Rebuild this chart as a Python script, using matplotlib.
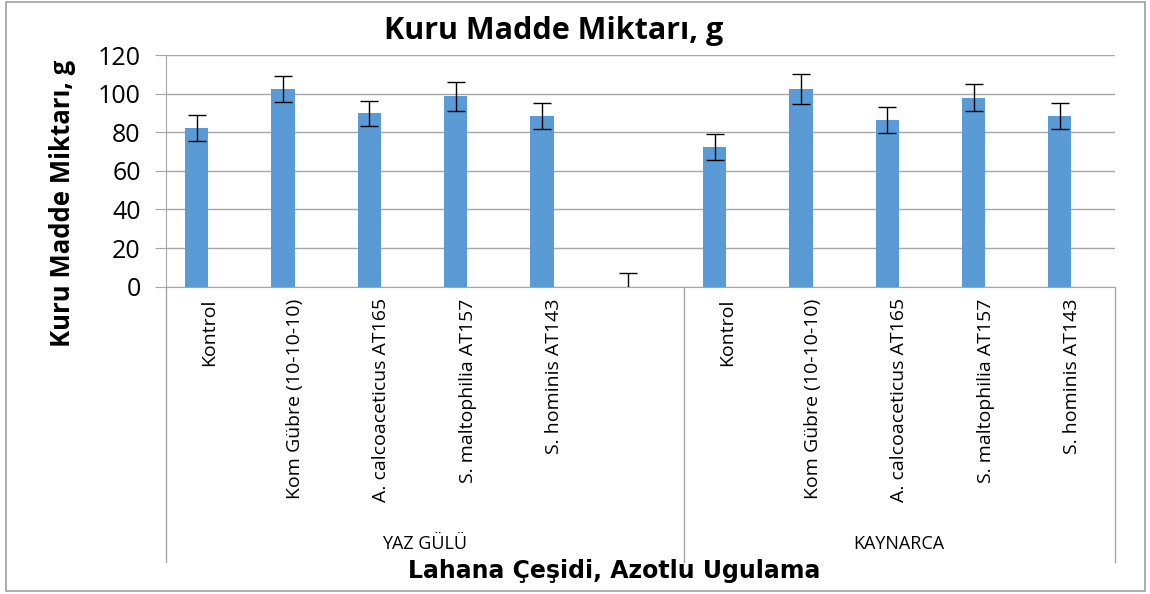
import matplotlib.pyplot as plt
import numpy as np
from matplotlib.lines import Line2D
from matplotlib.patches import Rectangle

# data
groups = ['YAZ GÜLÜ', 'KAYNARCA']
group_sizes = [6, 5]
treatments = ['Kontrol', 'Kom Gübre (10-10-10)', 'A. calcoaceticus AT165',
              'S. maltophilia AT157', 'S. hominis AT143', '',
              'Kontrol', 'Kom Gübre (10-10-10)', 'A. calcoaceticus AT165',
              'S. maltophilia AT157', 'S. hominis AT143']
values = [82.0, 102.4, 89.8, 98.6, 88.4, 0.0,
          72.5, 102.4, 86.5, 97.9, 88.4]
errors = [6.7, 6.9, 6.5, 7.4, 6.9, 7.1,
          6.7, 7.6, 6.7, 7.0, 6.9]

plt.rcParams['font.family'] = ['Open Sans', 'DejaVu Sans']

fig = plt.figure(figsize=(11.5, 5.94), dpi=100)
ax = fig.add_axes([0.1441, 0.5173, 0.8255, 0.3901])

x = np.arange(len(values))
grid_col = '#A6A6A6'
ax.bar(x - 0.14, values, width=0.27, color='#5B9BD5', zorder=3)
ax.errorbar(x - 0.14, values, yerr=errors, fmt='none', ecolor='black',
            elinewidth=1, capsize=6.5, capthick=1, zorder=4)

ax.set_xlim(-0.5, len(values) - 0.5)
ax.set_ylim(0, 120)
ax.set_yticks(np.arange(0, 121, 20))
ax.tick_params(axis='y', labelsize=18, length=8, color=grid_col, pad=10)
ax.yaxis.grid(True, color=grid_col, linewidth=1, zorder=0)
ax.set_xticks([])
for s in ['top', 'right']:
    ax.spines[s].set_visible(False)
ax.spines['left'].set_color(grid_col)
ax.spines['bottom'].set_color(grid_col)

# rotated category labels
trans = ax.get_xaxis_transform()
for i, lab in enumerate(treatments):
    ax.text(i, -0.05, lab, transform=trans, rotation=90,
            ha='center', va='top', fontsize=14)

# group dividers and group labels
edges = np.concatenate([[0], np.cumsum(group_sizes)]) - 0.5
for e in edges:
    ax.add_line(Line2D([e, e], [0, -1.187], transform=trans, color=grid_col,
                       linewidth=1, clip_on=False))
for g, a, b in zip(groups, edges[:-1], edges[1:]):
    ax.text((a + b) / 2, -1.11, g, transform=trans, ha='center', va='center',
            fontsize=13)

fig.text(0.534, 0.038, 'Lahana Çeşidi, Azotlu Ugulama', ha='center', va='center',
         fontsize=17, fontweight='bold', family=['DejaVu Sans'])
fig.text(0.054, 0.658, 'Kuru Madde Miktarı, g', rotation=90, ha='center',
         va='center', fontsize=18.5, fontweight='bold')
fig.text(0.481, 0.948, 'Kuru Madde Miktarı, g', ha='center', va='center',
         fontsize=22, fontweight='bold')

# chart border
fig.add_artist(Rectangle((0.005, 0.005), 0.991, 0.992, transform=fig.transFigure,
                         fill=False, edgecolor='#9E9E9E', linewidth=1.2))

fig.savefig('out.png', dpi=100)
